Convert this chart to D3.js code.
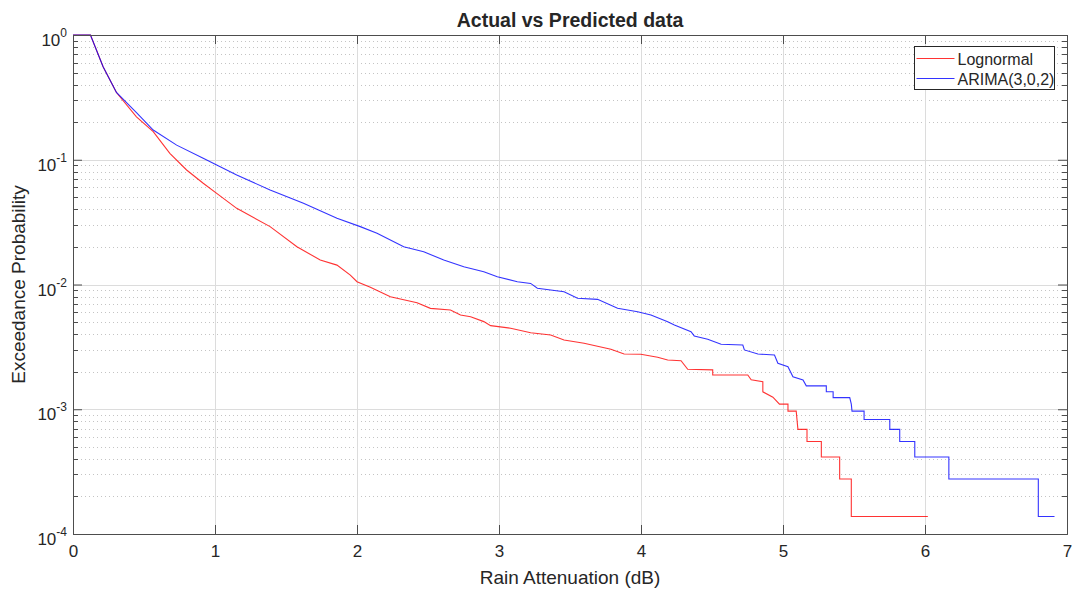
<!DOCTYPE html>
<html>
<head>
<meta charset="utf-8">
<script src="https://cdn.jsdelivr.net/npm/d3@7"></script>
<style>
  body { margin: 0; background: #fff; }
  svg text { font-family: "Liberation Sans", Arial, Helvetica, sans-serif; fill: #262626; }
</style>
</head>
<body>
<div id="chart"></div>
<script>
// exceedance curves: [attenuation dB, probability]
var lognormal = [
    [0, 1], [0.123, 1], [0.212, 0.557], [0.306, 0.346], [0.447, 0.221], [0.565, 0.168],
    [0.682, 0.1127], [0.800, 0.0828], [0.917, 0.0648], [1.012, 0.0538], [1.153, 0.0408],
    [1.388, 0.0291], [1.577, 0.0201], [1.741, 0.0157], [1.859, 0.0143], [1.953, 0.0119],
    [2.000, 0.01052], [2.094, 0.0095], [2.235, 0.00798], [2.423, 0.00715], [2.517, 0.00644],
    [2.658, 0.00625], [2.729, 0.0057], [2.800, 0.00552], [2.893, 0.00504], [2.941, 0.00468],
    [3.082, 0.00446], [3.223, 0.00411], [3.364, 0.00394], [3.458, 0.00359], [3.599, 0.00338],
    [3.788, 0.00303], [3.881, 0.00277], [3.999, 0.00276], [4.117, 0.00261], [4.188, 0.00248],
    [4.282, 0.00245], [4.329, 0.00209], [4.505, 0.00207], [4.505, 0.00188], [4.752, 0.00188],
    [4.776, 0.00172], [4.858, 0.00166], [4.858, 0.00138], [4.929, 0.00125], [4.975, 0.0011],
    [5.035, 0.0011], [5.035, 0.000966], [5.093, 0.000966], [5.105, 0.00069], [5.169, 0.00069],
    [5.169, 0.000552], [5.270, 0.000552], [5.270, 0.000414], [5.399, 0.000414], [5.399, 0.000276],
    [5.481, 0.000276], [5.481, 0.000138], [6.02, 0.000138]
];

var arima = [
    [0, 1], [0.123, 1], [0.212, 0.557], [0.306, 0.346], [0.447, 0.239], [0.565, 0.173],
    [0.730, 0.131], [0.917, 0.1027], [1.012, 0.0908], [1.153, 0.0755], [1.388, 0.0572],
    [1.623, 0.0448], [1.859, 0.0340], [2.023, 0.0291], [2.141, 0.0257], [2.235, 0.0227],
    [2.329, 0.0201], [2.470, 0.0183], [2.611, 0.0157], [2.752, 0.0139], [2.893, 0.01267],
    [2.988, 0.01155], [3.129, 0.01053], [3.223, 0.0102], [3.270, 0.00933], [3.458, 0.00876],
    [3.553, 0.00775], [3.694, 0.0076], [3.835, 0.00644], [3.976, 0.00605], [4.070, 0.00569],
    [4.188, 0.00503], [4.235, 0.00473], [4.352, 0.00419], [4.375, 0.00387], [4.470, 0.00364],
    [4.564, 0.00332], [4.717, 0.00327], [4.728, 0.00299], [4.823, 0.00277], [4.940, 0.00272],
    [4.964, 0.00234], [5.035, 0.00219], [5.070, 0.00182], [5.141, 0.00172], [5.164, 0.00154],
    [5.305, 0.00154], [5.305, 0.00138], [5.353, 0.00138], [5.353, 0.00124], [5.470, 0.00124],
    [5.481, 0.0011], [5.486, 0.000966], [5.571, 0.000966], [5.571, 0.000828], [5.752, 0.000828],
    [5.752, 0.00069], [5.822, 0.00069], [5.822, 0.000552], [5.928, 0.000552], [5.928, 0.000414],
    [6.168, 0.000414], [6.168, 0.000276], [6.798, 0.000276], [6.798, 0.000138], [6.912, 0.000138]
];

var seriesNames = ["Lognormal", "ARIMA(3,0,2)"];
var seriesColors = ["#ff0000", "#0000ff"];
var xTicks = [0, 1, 2, 3, 4, 5, 6, 7];
var yExponents = [0, -1, -2, -3, -4];

var width = 1075, height = 590,
    margin = {top: 35, right: 8, bottom: 56, left: 73};

var svg = d3.select("#chart").append("svg")
    .attr("width", width)
    .attr("height", height);

var x = d3.scaleLinear().domain([0, 7]).range([margin.left, width - margin.right]);
var y = d3.scaleLog().domain([1e-4, 1]).range([height - margin.bottom, margin.top]);

var minorVals = [];
yExponents.forEach(function(e) {
    if (e === 0) return;
    for (var m = 2; m <= 9; m++) minorVals.push(m * Math.pow(10, e));
});

// grid
var grid = svg.append("g");
grid.selectAll(".minor").data(minorVals).enter().append("line")
    .attr("x1", x(0)).attr("x2", x(7))
    .attr("y1", function(d) { return Math.round(y(d)) + 0.5; })
    .attr("y2", function(d) { return Math.round(y(d)) + 0.5; })
    .attr("stroke", "#c4c4c4").attr("stroke-width", 1)
    .attr("stroke-dasharray", "1,3");
grid.selectAll(".majy").data(yExponents.slice(1, 4)).enter().append("line")
    .attr("x1", x(0)).attr("x2", x(7))
    .attr("y1", function(d) { return Math.round(y(Math.pow(10, d))) + 0.5; })
    .attr("y2", function(d) { return Math.round(y(Math.pow(10, d))) + 0.5; })
    .attr("stroke", "#dcdcdc");
grid.selectAll(".majx").data(xTicks.slice(1, 7)).enter().append("line")
    .attr("x1", function(d) { return Math.round(x(d)) + 0.5; })
    .attr("x2", function(d) { return Math.round(x(d)) + 0.5; })
    .attr("y1", y(1)).attr("y2", y(1e-4))
    .attr("stroke", "#dcdcdc");

// curves
var line = d3.line()
    .x(function(d) { return x(d[0]); })
    .y(function(d) { return y(d[1]); });

[lognormal, arima].forEach(function(s, i) {
    svg.append("path")
        .datum(s)
        .attr("fill", "none")
        .attr("stroke", seriesColors[i])
        .attr("stroke-opacity", 0.8)
        .attr("stroke-width", 1.1)
        .attr("d", line);
});

// axes with inward ticks (matlab style)
var xAxisB = d3.axisBottom(x).tickValues(xTicks).tickSize(-9).tickPadding(11).tickFormat(d3.format("d"));
var xAxisT = d3.axisTop(x).tickValues(xTicks).tickSize(-9).tickFormat("");
var yAxisL = d3.axisLeft(y).tickValues(yExponents.map(function(e) { return Math.pow(10, e); })).tickSize(-9).tickFormat("");
var yAxisR = d3.axisRight(y).tickValues(yExponents.map(function(e) { return Math.pow(10, e); })).tickSize(-9).tickFormat("");

function styleAxis(g) {
    g.select(".domain").attr("stroke", "#4d4d4d");
    g.selectAll(".tick line").attr("stroke", "#4d4d4d");
}

svg.append("g").attr("transform", "translate(0," + y(1e-4) + ")").call(xAxisB).call(styleAxis)
    .selectAll("text").attr("font-size", 17).attr("fill", "#262626").style("font-family", "Liberation Sans, Arial, sans-serif");
svg.append("g").attr("transform", "translate(0," + y(1) + ")").call(xAxisT).call(styleAxis);
svg.append("g").attr("transform", "translate(" + x(0) + ",0)").call(yAxisL).call(styleAxis);
svg.append("g").attr("transform", "translate(" + x(7) + ",0)").call(yAxisR).call(styleAxis);

// minor y ticks on both sides
var minorTicks = svg.append("g");
minorVals.forEach(function(v) {
    var yy = Math.round(y(v)) + 0.5;
    minorTicks.append("line").attr("x1", x(0)).attr("x2", x(0) + 5).attr("y1", yy).attr("y2", yy).attr("stroke", "#4d4d4d");
    minorTicks.append("line").attr("x1", x(7)).attr("x2", x(7) - 5).attr("y1", yy).attr("y2", yy).attr("stroke", "#4d4d4d");
});

// y tick labels 10^n
var ylab = svg.append("g").selectAll("text").data(yExponents).enter().append("text")
    .attr("x", 67)
    .attr("y", function(d) { return y(Math.pow(10, d)) + 11; })
    .attr("text-anchor", "end")
    .attr("font-size", 17);
ylab.append("tspan").text("10");
ylab.append("tspan").attr("dy", -9).attr("font-size", 12).text(function(d) { return d; });

// title and axis labels
svg.append("text")
    .attr("x", (x(0) + x(7)) / 2).attr("y", 27)
    .attr("text-anchor", "middle")
    .attr("font-size", 19.5).attr("font-weight", "bold")
    .text("Actual vs Predicted data");

svg.append("text")
    .attr("x", (x(0) + x(7)) / 2).attr("y", 584)
    .attr("text-anchor", "middle")
    .attr("font-size", 19)
    .text("Rain Attenuation (dB)");

svg.append("text")
    .attr("transform", "translate(25," + (y(1) + y(1e-4)) / 2 + ") rotate(-90)")
    .attr("text-anchor", "middle")
    .attr("font-size", 19)
    .text("Exceedance Probability");

// legend
var leg = svg.append("g").attr("transform", "translate(914.5,46.5)");
leg.append("rect").attr("width", 140).attr("height", 43)
    .attr("fill", "#fff").attr("stroke", "#262626").attr("stroke-width", 1);
seriesNames.forEach(function(n, i) {
    var ly = 12 + i * 20;
    leg.append("line").attr("x1", 2).attr("x2", 40).attr("y1", ly).attr("y2", ly)
        .attr("stroke", seriesColors[i]).attr("stroke-opacity", 0.8);
    leg.append("text").attr("x", 43).attr("y", ly + 6).attr("font-size", 16).text(n);
});
</script>
</body>
</html>
